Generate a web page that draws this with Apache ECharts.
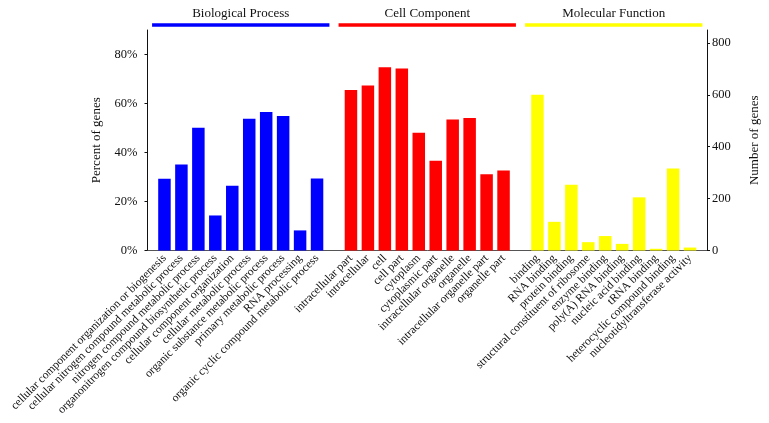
<!DOCTYPE html>
<html>
<head>
<meta charset="utf-8">
<script src="https://cdn.jsdelivr.net/npm/echarts@6/dist/echarts.min.js"></script>
<style>
html,body{margin:0;padding:0;background:#fff;}
#main{width:769px;height:423px;}
</style>
</head>
<body>
<div id="main"></div>
<script>
// ---- data ----
var groupNames = ['Biological Process', 'Cell Component', 'Molecular Function'];
var bioCats = ['cellular component organization or biogenesis', 'cellular nitrogen compound metabolic process', 'nitrogen compound metabolic process', 'organonitrogen compound biosynthetic process', 'cellular component organization', 'cellular metabolic process', 'organic substance metabolic process', 'primary metabolic process', 'RNA processing', 'organic cyclic compound metabolic process'];
var bioVals = [29.3, 35.1, 50.1, 14.3, 26.4, 53.8, 56.5, 54.9, 8.2, 29.4];
var cellCats = ['intracellular part', 'intracellular', 'cell', 'cell part', 'cytoplasm', 'cytoplasmic part', 'intracellular organelle', 'organelle', 'intracellular organelle part', 'organelle part'];
var cellVals = [65.5, 67.3, 74.8, 74.3, 48.1, 36.6, 53.5, 54.1, 31.1, 32.7];
var molCats = ['binding', 'RNA binding', 'protein binding', 'structural constituent of ribosome', 'enzyme binding', 'poly(A) RNA binding', 'nucleic acid binding', 'tRNA binding', 'heterocyclic compound binding', 'nucleotidyltransferase activity'];
var molVals = [63.6, 11.7, 26.8, 3.4, 5.9, 2.7, 21.7, 0.7, 33.5, 1.2];
var percentTicks = [0, 20, 40, 60, 80];
var countTicks = [0, 200, 400, 600, 800];
var percentMax = 90;
var countMax = 850;
var groupColors = ['#0000ff', '#ff0000', '#ffff00'];

// ---- build combined category axis (blank slot between groups and at ends) ----
var groups = [bioCats, cellCats, molCats];
var groupVals = [bioVals, cellVals, molVals];
var categories = [''];
var seriesData = [[null], [null], [null]];
var groupRange = [];
groups.forEach(function (cats, g) {
  if (g > 0) {
    categories.push('');
    for (var s = 0; s < 3; s++) seriesData[s].push(null);
  }
  var start = categories.length;
  cats.forEach(function (c, i) {
    categories.push(c);
    for (var s = 0; s < 3; s++) seriesData[s].push(s === g ? groupVals[g][i] : null);
  });
  groupRange.push([start, categories.length - 1]);
});
categories.push('');
for (var s = 0; s < 3; s++) seriesData[s].push(null);

var FONT = 'Liberation Serif';
var chart = echarts.init(document.getElementById('main'), null, {renderer: 'canvas'});
var option = {
  animation: false,
  backgroundColor: '#fff',
  textStyle: {fontFamily: FONT, color: '#111'},
  grid: {left: 147.5, right: 61.3, top: 30, bottom: 172.5, containLabel: false},
  xAxis: {
    type: 'category',
    data: categories,
    boundaryGap: false,
    axisLine: {lineStyle: {color: '#555', width: 1}},
    axisTick: {show: false},
    axisLabel: {interval: 0, rotate: 45, fontFamily: FONT, fontSize: 11.6, color: '#111', margin: 6}
  },
  yAxis: [{
    type: 'value', min: 0, max: percentMax, interval: 20,
    name: 'Percent of genes', nameLocation: 'middle', nameGap: 44,
    nameTextStyle: {fontFamily: FONT, fontSize: 13, color: '#111'},
    splitLine: {show: false},
    axisLine: {show: true, lineStyle: {color: '#111', width: 1}},
    axisTick: {show: true, length: 3, inside: false, customValues: percentTicks, lineStyle: {color: '#111'}},
    axisLabel: {fontFamily: FONT, fontSize: 12.5, color: '#111', margin: 10, customValues: percentTicks,
      formatter: function (v) { return v + '%'; }}
  }, {
    type: 'value', min: 0, max: countMax, interval: 200, position: 'right',
    name: 'Number of genes', nameLocation: 'middle', nameGap: 41,
    nameTextStyle: {fontFamily: FONT, fontSize: 13, color: '#111'},
    splitLine: {show: false},
    axisLine: {show: true, lineStyle: {color: '#111', width: 1}},
    axisTick: {show: true, length: 3, customValues: countTicks, lineStyle: {color: '#111'}},
    axisLabel: {fontFamily: FONT, fontSize: 12.5, color: '#111', margin: 5, customValues: countTicks}
  }],
  series: [0, 1, 2].map(function (g) {
    return {
      type: 'bar', name: groupNames[g], data: seriesData[g], barWidth: 12.5, barGap: '-100%',
      itemStyle: {color: groupColors[g]}, yAxisIndex: 0
    };
  })
};
chart.setOption(option);

// group header bars + titles, positioned from the category axis
var p0 = chart.convertToPixel({xAxisIndex: 0}, 0);
var p1 = chart.convertToPixel({xAxisIndex: 0}, 1);
var slot = p1 - p0;
var ext = slot * 0.73;
var graphics = [];
groupRange.forEach(function (r, g) {
  var xa = chart.convertToPixel({xAxisIndex: 0}, r[0]) - ext;
  var xb = chart.convertToPixel({xAxisIndex: 0}, r[1]) + ext;
  graphics.push({type: 'rect', shape: {x: xa, y: 23.3, width: xb - xa, height: 3.5}, style: {fill: groupColors[g]}, silent: true});
  graphics.push({type: 'text', x: (xa + xb) / 2, y: 14, style: {text: groupNames[g], fontFamily: FONT, fontSize: 13, fill: '#111', align: 'center', verticalAlign: 'middle'}, silent: true});
});
chart.setOption({graphic: graphics});
</script>
</body>
</html>
